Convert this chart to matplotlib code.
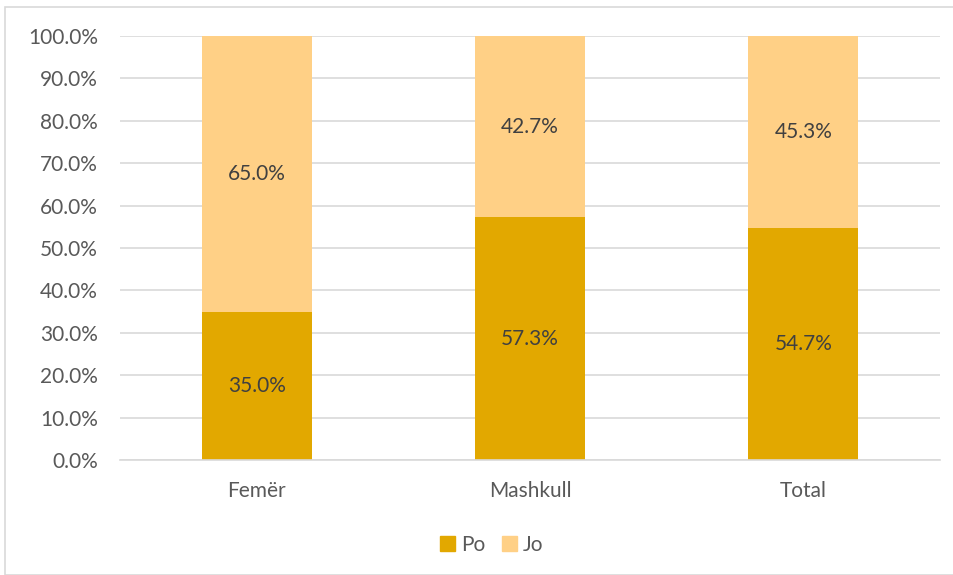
import matplotlib
matplotlib.use("Agg")
import matplotlib.pyplot as plt
from matplotlib.patches import Rectangle, Patch
import numpy as np

categories = ["Femër", "Mashkull", "Total"]
po = [35.0, 57.3, 54.7]
jo = [65.0, 42.7, 45.3]
series_names = ["Po", "Jo"]
yticks = [0, 10, 20, 30, 40, 50, 60, 70, 80, 90, 100]

plt.rcParams['font.family'] = ['Lato', 'DejaVu Sans']

W, H = 954, 575
fig = plt.figure(figsize=(W/100, H/100), dpi=100)
ax = fig.add_axes([120/W, 1-460/H, 820/W, (460-36)/H])

c_po = "#E2A800"
c_jo = "#FFD086"
x = np.arange(len(categories))
width = 0.403
ax.bar(x, po, width, color=c_po, zorder=2)
ax.bar(x, jo, width, bottom=po, color=c_jo, zorder=2)

for i in range(len(categories)):
    ax.text(x[i], po[i]/2, f"{po[i]:.1f}%", ha='center', va='center', fontsize=15, color='#404040', zorder=3)
    ax.text(x[i], po[i] + jo[i]/2, f"{jo[i]:.1f}%", ha='center', va='center', fontsize=15, color='#404040', zorder=3)

ax.set_xlim(-0.5, 2.5)
ax.set_ylim(0, 100)
ax.set_yticks(yticks)
ax.set_yticklabels([f"{v:.1f}%" for v in yticks])
ax.set_xticks(x)
ax.set_xticklabels(categories)
ax.tick_params(axis='both', length=0, labelsize=15, colors='#595959')
ax.tick_params(axis='y', pad=16)
ax.tick_params(axis='x', pad=15)
ax.grid(axis='y', color='#D9D9D9', linewidth=1.2, zorder=0)
for s in ['top', 'right', 'left']:
    ax.spines[s].set_visible(False)
ax.spines['bottom'].set_color('#D9D9D9')
ax.spines['bottom'].set_linewidth(1.2)

handles = [Patch(color=c_po), Patch(color=c_jo)]
fig.legend(handles, series_names, loc='center', bbox_to_anchor=(492/W, 1-545/H), ncol=2,
           frameon=False, fontsize=15, handlelength=0.7, handleheight=0.7,
           handletextpad=0.3, columnspacing=0.8, labelcolor='#595959')

fig.patches.append(Rectangle((5/W, 0), 1.0, 1-7/H, transform=fig.transFigure,
                             fill=False, edgecolor='#D9D9D9', linewidth=1.2))

fig.savefig("out.png", dpi=100)
